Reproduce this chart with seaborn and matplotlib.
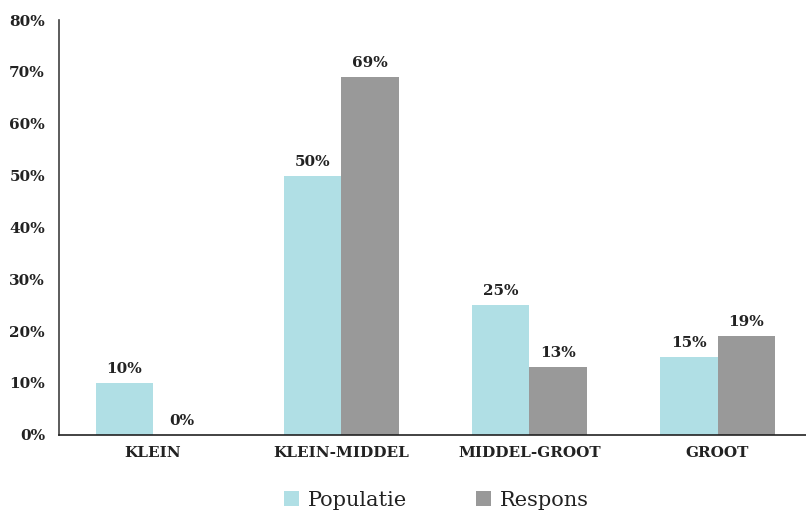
import pandas as pd
import matplotlib.pyplot as plt
import seaborn as sns

# Data
categories = ['KLEIN', 'KLEIN-MIDDEL', 'MIDDEL-GROOT', 'GROOT']
populatie = [10, 50, 25, 15]
respons = [0, 69, 13, 19]
series_names = ['Populatie', 'Respons']
colors = ['#B0DFE5', '#999999']

df = pd.DataFrame({
    'Categorie': categories * 2,
    'Waarde': populatie + respons,
    'Reeks': [series_names[0]] * len(categories) + [series_names[1]] * len(categories)
})

sns.set_style('white')
plt.rcParams['font.family'] = ['DejaVu Serif']

fig = plt.figure(figsize=(8.06, 5.14), dpi=100)
ax = fig.add_axes([0.073, 0.154, 0.927, 0.807])

sns.barplot(data=df, x='Categorie', y='Waarde', hue='Reeks', palette=colors,
            width=0.61, saturation=1, linewidth=0, ax=ax)

# Labels above bars
for container in ax.containers:
    ax.bar_label(container, labels=[f'{v:.0f}%' for v in container.datavalues],
                 padding=5, fontsize=11, fontweight='semibold', color='#222222')

ax.set_ylim(0, 80)
ax.set_xlim(-0.5, 3.47)
ax.set_yticks(range(0, 81, 10))
ax.set_yticklabels([f'{t}%' for t in range(0, 81, 10)], fontsize=11, fontweight='semibold', color='#222222')
ax.tick_params(axis='x', labelsize=11, labelcolor='#222222', length=0, pad=8)
ax.tick_params(axis='y', length=0, pad=10)
for lbl in ax.get_xticklabels():
    lbl.set_fontweight('semibold')
ax.set_xlabel('')
ax.set_ylabel('')

sns.despine(ax=ax)
ax.spines['left'].set_color('#404040')
ax.spines['bottom'].set_color('#222222')
ax.spines['left'].set_linewidth(1.2)
ax.spines['bottom'].set_linewidth(1.2)

leg = ax.legend(loc='upper center', bbox_to_anchor=(0.505, -0.09), ncol=2, frameon=False,
                fontsize=15, handlelength=0.75, handleheight=0.75, columnspacing=3.3, handletextpad=0.4)
for t in leg.get_texts():
    t.set_color('#222222')

fig.savefig('out.png', dpi=100)
